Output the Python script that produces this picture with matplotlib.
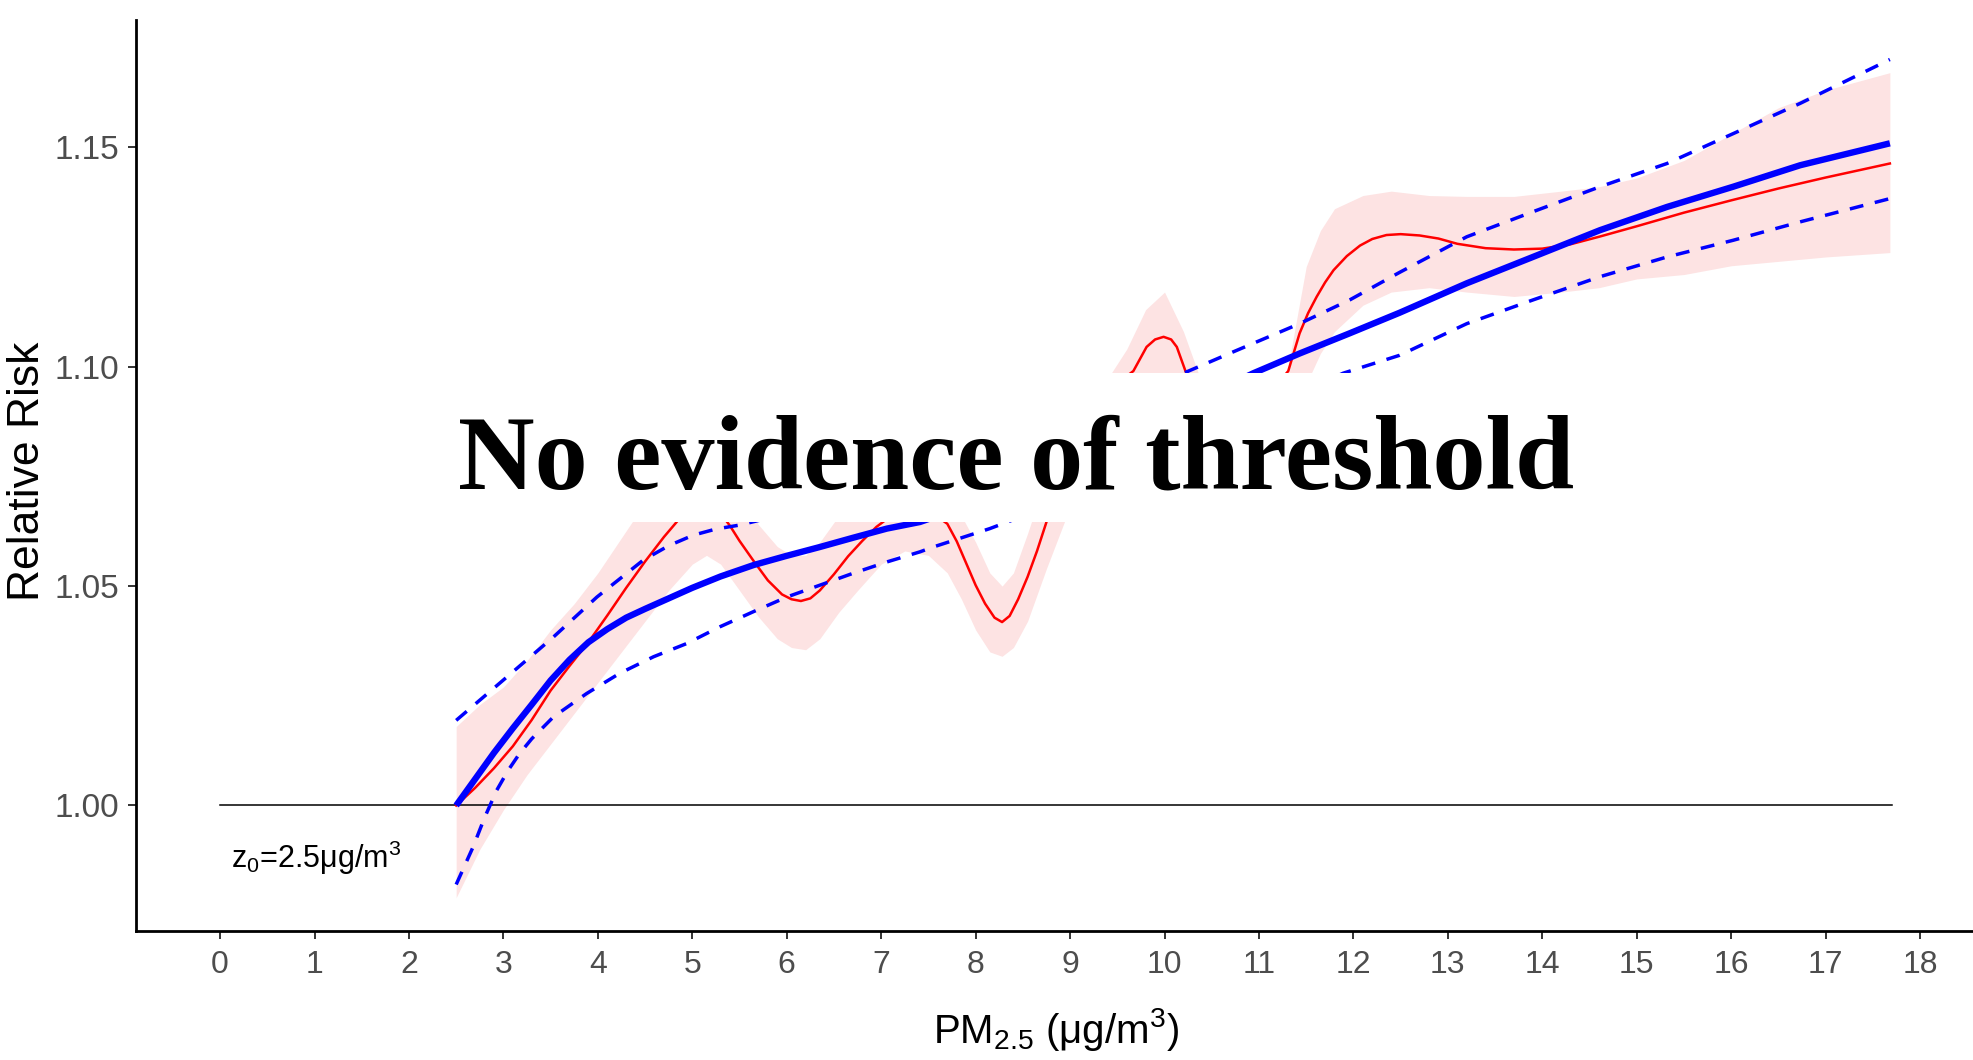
import matplotlib
matplotlib.use("Agg")
import matplotlib.pyplot as plt
from matplotlib.patches import Rectangle

plt.rcParams['font.family'] = ['Liberation Sans', 'DejaVu Sans']
plt.rcParams['mathtext.fontset'] = 'custom'
plt.rcParams['mathtext.rm'] = 'Liberation Sans'
plt.rcParams['mathtext.it'] = 'Liberation Sans:italic'
plt.rcParams['mathtext.bf'] = 'Liberation Sans:bold'

# --- data ---
# red curve (flexible fit)
red_x = [2.5, 2.7, 2.9, 3.1, 3.3, 3.5, 3.7, 3.9, 4.1, 4.3, 4.5, 4.7, 4.85,
         5.0, 5.1, 5.2, 5.3, 5.4, 5.5, 5.65, 5.8, 5.95, 6.05, 6.15, 6.25,
         6.35, 6.5, 6.65, 6.8, 6.95, 7.1, 7.25, 7.4, 7.55, 7.7, 7.8, 7.9,
         8.0, 8.1, 8.2, 8.28, 8.36, 8.45, 8.55, 8.65, 8.75, 8.9, 9.05, 9.2,
         9.35, 9.5, 9.67, 9.81, 9.9, 9.99, 10.07, 10.13, 10.23, 10.4, 10.6,
         10.75, 10.9, 11.05, 11.2, 11.31, 11.43, 11.52, 11.61, 11.7, 11.79,
         11.93, 12.07, 12.2, 12.35, 12.5, 12.7, 12.9, 13.1, 13.4, 13.7, 14.0,
         14.3, 14.6, 15.0, 15.5, 16.0, 16.5, 17.0, 17.68]
red_y = [1.0000, 1.0040, 1.0085, 1.0135, 1.0195, 1.0262, 1.0318, 1.0372,
         1.0433, 1.0496, 1.0556, 1.0612, 1.0650, 1.0676, 1.0686, 1.0684,
         1.0666, 1.0637, 1.0603, 1.0557, 1.0513, 1.0481, 1.0470, 1.0466,
         1.0472, 1.0490, 1.0527, 1.0568, 1.0603, 1.0635, 1.0659, 1.0675,
         1.0677, 1.0665, 1.0642, 1.0602, 1.0552, 1.0502, 1.0460, 1.0428,
         1.0418, 1.0432, 1.0470, 1.0521, 1.0580, 1.0646, 1.0735, 1.0815,
         1.0880, 1.0930, 1.0962, 1.0990, 1.1045, 1.1062, 1.1068, 1.1062,
         1.1045, 1.0985, 1.0935, 1.0908, 1.0902, 1.0910, 1.0932, 1.0962,
         1.0990, 1.1076, 1.1122, 1.1159, 1.1192, 1.1220, 1.1252, 1.1276,
         1.1291, 1.1300, 1.1302, 1.1299, 1.1292, 1.1280, 1.1270, 1.1267,
         1.1269, 1.1279, 1.1296, 1.1320, 1.1351, 1.1379, 1.1406, 1.1431,
         1.1463]

# pink confidence band of the red curve
band_x = [2.5, 2.75, 3.0, 3.25, 3.5, 3.75, 4.0, 4.25, 4.5, 4.75, 5.0, 5.15,
          5.3, 5.5, 5.7, 5.9, 6.05, 6.2, 6.35, 6.55, 6.75, 7.0, 7.25, 7.5,
          7.7, 7.85, 8.0, 8.15, 8.28, 8.4, 8.55, 8.75, 9.0, 9.3, 9.6, 9.8,
          10.0, 10.2, 10.4, 10.75, 11.1, 11.3, 11.5, 11.65, 11.8, 12.1, 12.4,
          12.8, 13.2, 13.7, 14.2, 14.6, 15.0, 15.5, 16.0, 16.5, 17.0, 17.68]
band_lo = [0.979, 0.990, 0.999, 1.007, 1.014, 1.021, 1.028, 1.035, 1.042,
           1.049, 1.055, 1.057, 1.055, 1.049, 1.043, 1.038, 1.036, 1.0355,
           1.038, 1.044, 1.049, 1.055, 1.058, 1.057, 1.053, 1.047, 1.040,
           1.035, 1.034, 1.036, 1.042, 1.054, 1.068, 1.081, 1.089, 1.095,
           1.097, 1.092, 1.085, 1.080, 1.083, 1.087, 1.096, 1.103, 1.108,
           1.114, 1.117, 1.118, 1.117, 1.116, 1.117, 1.118, 1.120, 1.121,
           1.123, 1.124, 1.125, 1.126]
band_hi = [1.018, 1.023, 1.027, 1.033, 1.040, 1.046, 1.053, 1.061, 1.069,
           1.076, 1.080, 1.081, 1.078, 1.071, 1.064, 1.059, 1.057, 1.057,
           1.060, 1.066, 1.070, 1.075, 1.078, 1.077, 1.074, 1.066, 1.060,
           1.053, 1.050, 1.053, 1.062, 1.075, 1.087, 1.094, 1.104, 1.113,
           1.117, 1.108, 1.096, 1.092, 1.095, 1.099, 1.1228, 1.131, 1.136,
           1.139, 1.140, 1.139, 1.1388, 1.1388, 1.140, 1.141, 1.143, 1.147,
           1.153, 1.159, 1.163, 1.167]

# blue curve (threshold model) with dashed limits
blue_x = [2.5, 2.7, 2.9, 3.1, 3.3, 3.5, 3.7, 3.9, 4.1, 4.3, 4.5, 4.75, 5.0,
          5.3, 5.65, 6.0, 6.35, 6.7, 7.06, 7.41, 8.0, 9.0, 10.0, 10.94,
          11.43, 11.96, 12.49, 13.2, 13.9, 14.61, 15.32, 16.02, 16.73, 17.68]
blue_y = [1.0000, 1.0060, 1.0120, 1.0176, 1.0230, 1.0285, 1.0332, 1.0372,
          1.0402, 1.0428, 1.0448, 1.0472, 1.0496, 1.0522, 1.0548, 1.0569,
          1.0589, 1.0610, 1.0631, 1.0646, 1.0690, 1.0785, 1.0888, 1.0985,
          1.1030, 1.1076, 1.1123, 1.1190, 1.1250, 1.1311, 1.1364, 1.1410,
          1.1459, 1.1509]
up_x = [2.5, 3.0, 3.53, 3.99, 4.48, 4.75, 5.01, 5.25, 5.5, 6.0, 7.0, 8.0,
        9.0, 10.2, 10.73, 11.43, 11.96, 12.49, 13.2, 13.9, 14.61, 15.32,
        16.02, 16.73, 17.68]
up_y = [1.0194, 1.0286, 1.0384, 1.0475, 1.0559, 1.0592, 1.0616, 1.0630,
        1.0639, 1.0665, 1.0715, 1.0780, 1.0870, 1.0985, 1.1034, 1.1098,
        1.1152, 1.1215, 1.1296, 1.1353, 1.1410, 1.1463, 1.1531, 1.1600,
        1.1700]
lo_x = [2.5, 2.68, 2.8, 2.93, 3.05, 3.17, 3.3, 3.53, 3.88, 4.23, 4.59, 4.94,
        5.29, 5.64, 6.0, 6.35, 6.7, 7.06, 7.41, 7.55, 8.15, 9.0, 10.0, 11.0,
        11.89, 12.49, 13.2, 13.9, 14.61, 15.32, 16.02, 16.73, 17.68]
lo_y = [0.9820, 0.9906, 0.9972, 1.0035, 1.0080, 1.0118, 1.0152, 1.0202,
        1.0255, 1.0301, 1.0339, 1.0369, 1.0407, 1.0441, 1.0475, 1.0502,
        1.0529, 1.0555, 1.0578, 1.0589, 1.0631, 1.0700, 1.0795, 1.0895,
        1.0985, 1.1026, 1.1098, 1.1152, 1.1205, 1.1250, 1.1288, 1.1330,
        1.1383]

ref_x = [0, 17.7]
ref_y = [1.0, 1.0]

xticks = list(range(0, 19))
yticks = [1.00, 1.05, 1.10, 1.15]

# --- figure ---
fig = plt.figure(figsize=(19.73, 10.60), dpi=100)
ax = fig.add_axes([136 / 1973, 129 / 1060, 1837 / 1973, 911 / 1060])
ax.set_xlim(-0.89, 18.56)
ax.set_ylim(0.9714, 1.1790)

ax.fill_between(band_x, band_lo, band_hi, color='#fde3e3', lw=0, zorder=1)
ax.plot(ref_x, ref_y, color='black', lw=1.1, zorder=2)
ax.plot(red_x, red_y, color='#ff0000', lw=1.8, solid_joinstyle='round', zorder=3)
dash = (0, (4, 3.4))
ax.plot(up_x, up_y, color='#0000ff', lw=2.5, ls=dash, zorder=4)
ax.plot(lo_x, lo_y, color='#0000ff', lw=2.5, ls=dash, zorder=4)
ax.plot(blue_x, blue_y, color='#0000ff', lw=4.6, solid_capstyle='butt',
        solid_joinstyle='round', zorder=5)

# white banner with the message
ax.add_patch(Rectangle((2.42, 1.0646), 12.1, 0.0339, facecolor='white',
                       edgecolor='none', zorder=6))
ax.text(8.43, 1.0723, 'No evidence of threshold', ha='center', va='baseline',
        family='Liberation Serif', fontweight='bold', fontsize=76.5, zorder=7)

ax.text(0.12, 0.9857, r'z$_\mathregular{0}$=2.5μg/m$^\mathregular{3}$',
        fontsize=22, color='black', va='baseline', ha='left', zorder=7)

# axes styling
for s in ['top', 'right']:
    ax.spines[s].set_visible(False)
for s in ['left', 'bottom']:
    ax.spines[s].set_linewidth(2.0)
    ax.spines[s].set_color('black')

ax.set_xticks(xticks)
ax.set_xticklabels([str(t) for t in xticks])
ax.set_yticks(yticks)
ax.set_yticklabels(['%.2f' % t for t in yticks])
ax.tick_params(axis='both', length=5.8, width=1.4, color='#333333',
               labelcolor='#4d4d4d')
ax.tick_params(axis='x', labelsize=23, pad=8)
ax.tick_params(axis='y', labelsize=24, pad=6)

fig.text(1056 / 1973, 17 / 1060, r'PM$_\mathregular{2.5}$ (μg/m$^\mathregular{3}$)',
         ha='center', va='baseline', fontsize=29, color='black')
fig.text(28 / 1973, (1060 - 471) / 1060, 'Relative Risk', rotation=90,
         ha='center', va='center', fontsize=32, color='black')

fig.savefig('out.png', dpi=100)
